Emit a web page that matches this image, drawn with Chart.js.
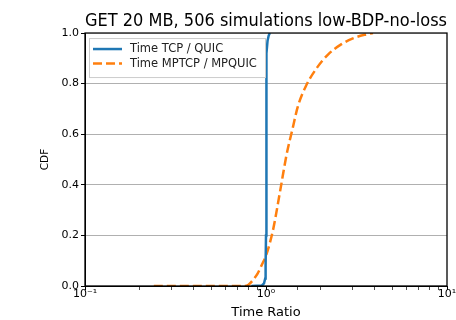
<!DOCTYPE html>
<html><head><meta charset="utf-8">
<script src="https://cdn.jsdelivr.net/npm/chart.js@4.4.1/dist/chart.umd.min.js"></script>
<style>html,body{margin:0;padding:0;background:#fff}#wrap{width:456px;height:320px;position:relative}</style>
</head><body><div id="wrap"><canvas id="c" width="456" height="320"></canvas></div>
<script>
const titleText = 'GET 20 MB, 506 simulations low-BDP-no-loss';
const seriesNames = ['Time TCP / QUIC', 'Time MPTCP / MPQUIC'];
const tcpX = [0.83, 0.95, 0.975, 0.99, 0.995, 1.0, 1.002, 1.005, 1.01, 1.02, 1.035, 1.05];
const tcpY = [0.0, 0.002, 0.01, 0.03, 0.08, 0.2, 0.45, 0.75, 0.92, 0.97, 0.99, 1.0];
const mpX = [0.24, 0.5, 0.75, 0.8, 0.85, 0.9, 0.95, 1.0, 1.05, 1.1, 1.2, 1.3, 1.4, 1.5, 1.66, 1.9, 2.2, 2.6, 3.0, 3.5, 3.9];
const mpY = [0.0, 0.0, 0.0, 0.005, 0.025, 0.05, 0.085, 0.12, 0.17, 0.23, 0.38, 0.52, 0.62, 0.71, 0.79, 0.86, 0.915, 0.955, 0.978, 0.993, 1.0];
const xTickValues = [0.1, 1, 10];
const xTickLabels = ['10\u207B\u00B9', '10\u2070', '10\u00B9'];
const yTicks = [0, 0.2, 0.4, 0.6, 0.8, 1.0];
const xTitle = 'Time Ratio';
const yTitle = 'CDF';
const colors = ['#1f77b4', '#ff7f0e'];

const toPts = (xs, ys) => xs.map((x, i) => ({x, y: ys[i]}));
const FONT = 'DejaVu Sans';

const framePlugin = {
  id: 'frame',
  afterDatasetsDraw(chart) {
    const {ctx, chartArea: a} = chart;
    ctx.save();
    ctx.strokeStyle = '#000';
    ctx.lineWidth = 1.3;
    ctx.strokeRect(a.left, a.top, a.right - a.left, a.bottom - a.top);
    // legend
    const bx = a.left + 4, by = a.top + 5, bw = 176, bh = 39;
    ctx.fillStyle = 'rgba(255,255,255,0.85)';
    ctx.fillRect(bx, by, bw, bh);
    ctx.strokeStyle = '#cccccc';
    ctx.lineWidth = 1;
    ctx.strokeRect(bx + 0.5, by + 0.5, bw, bh);
    ctx.font = '11.5px ' + FONT;
    ctx.textBaseline = 'middle';
    chart.data.datasets.forEach((ds, i) => {
      const yy = by + 11 + i * 14.5;
      ctx.strokeStyle = ds.borderColor;
      ctx.lineWidth = 2.5;
      ctx.setLineDash(ds.borderDash || []);
      ctx.beginPath();
      ctx.moveTo(bx + 4, yy);
      ctx.lineTo(bx + 33, yy);
      ctx.stroke();
      ctx.setLineDash([]);
      ctx.fillStyle = '#222';
      ctx.fillText(ds.label, bx + 41, yy);
    });
    ctx.restore();
  }
};

new Chart(document.getElementById('c'), {
  type: 'line',
  data: {
    datasets: [
      {label: seriesNames[0], data: toPts(tcpX, tcpY), borderColor: colors[0], borderWidth: 2.5, pointRadius: 0, tension: 0, fill: false},
      {label: seriesNames[1], data: toPts(mpX, mpY), borderColor: colors[1], borderWidth: 2.5, borderDash: [9, 4], pointRadius: 0, tension: 0.3, cubicInterpolationMode: 'monotone', fill: false}
    ]
  },
  options: {
    responsive: false,
    animation: false,
    layout: {padding: {left: 0, right: 9, top: 0, bottom: 0}},
    plugins: {
      legend: {display: false},
      tooltip: {enabled: false},
      title: {display: true, fullSize: false, text: titleText, color: '#000', font: {family: FONT, size: 17.7, weight: 'normal'}, padding: {top: 11, bottom: 0.8}}
    },
    scales: {
      x: {
        type: 'logarithmic', min: 0.1, max: 10,
        afterFit: s => { s.height = 34; s.paddingRight = 0; s.paddingLeft = 0; },
        border: {display: true, color: '#000', width: 1},
        grid: {drawOnChartArea: false, drawTicks: true, tickLength: 4, tickColor: '#000',
          tickWidth: c => (xTickValues.includes(c.tick && c.tick.value) ? 1 : 0.7)},
        ticks: {autoSkip: false, maxRotation: 0, color: '#000', padding: -2,
          font: {family: FONT, size: 11},
          callback: v => { const i = xTickValues.findIndex(t => Math.abs(t - v) < 1e-9); return i >= 0 ? xTickLabels[i] : ''; }},
        title: {display: true, text: xTitle, color: '#000', font: {family: FONT, size: 13}, padding: {top: 0, bottom: 0}}
      },
      y: {
        min: 0, max: 1,
        afterFit: s => { s.width = 85; },
        afterBuildTicks: s => { s.ticks = yTicks.map(v => ({value: v})); },
        border: {display: true, color: '#000', width: 1},
        grid: {color: c => (c.tick && (c.tick.value === 0 || c.tick.value === 1) ? 'rgba(0,0,0,0)' : '#b0b0b0'),
          lineWidth: 1, tickLength: 4, tickColor: '#000'},
        ticks: {color: '#000', padding: 2, font: {family: FONT, size: 11}, callback: v => v.toFixed(1)},
        title: {display: true, text: yTitle, color: '#000', font: {family: FONT, size: 10.5}, padding: {top: 39, bottom: 0}}
      }
    }
  },
  plugins: [framePlugin]
});
</script></body></html>
